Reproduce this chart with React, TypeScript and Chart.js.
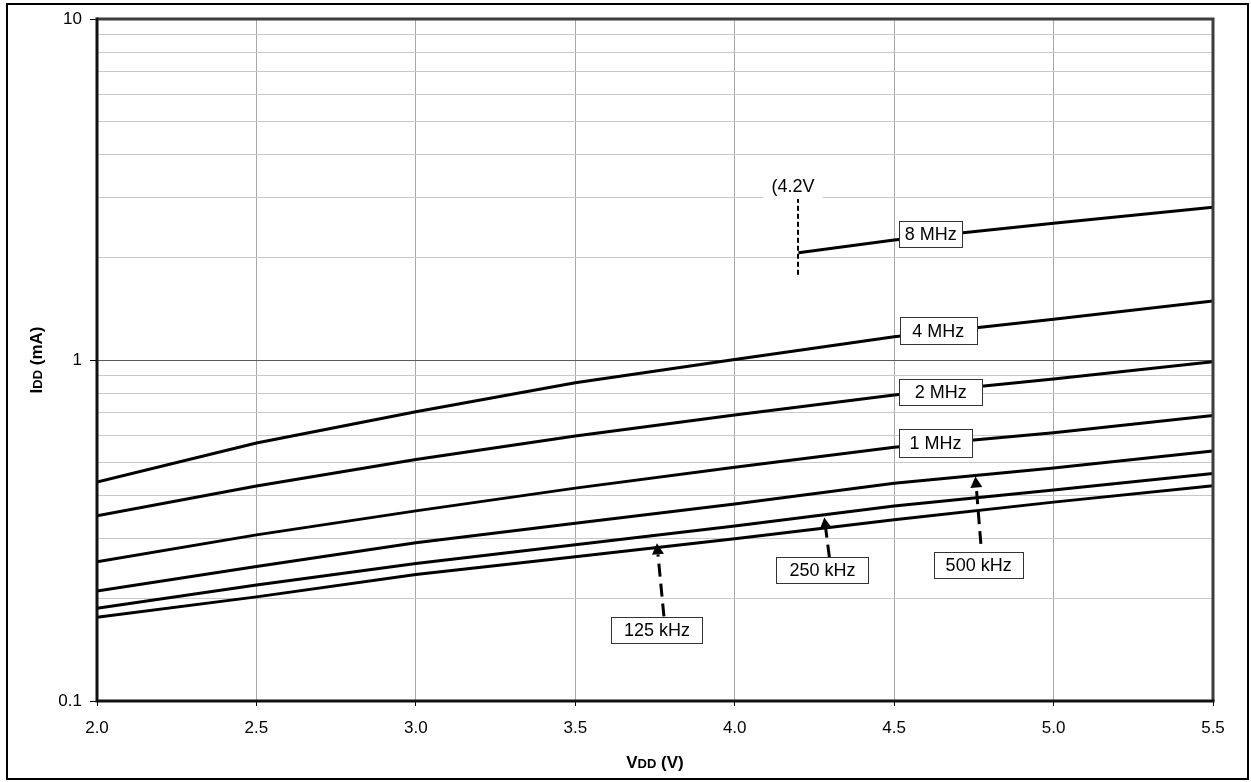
import React, { useEffect, useRef } from "react";
import { Chart, registerables } from "chart.js";

Chart.register(...registerables);

// ---------- data ----------
const VDD = [2.0, 2.5, 3.0, 3.5, 4.0, 4.5, 5.0, 5.5];
const IDD_4MHZ = [0.439, 0.571, 0.705, 0.858, 1.003, 1.17, 1.316, 1.489];
const IDD_2MHZ = [0.349, 0.427, 0.511, 0.599, 0.69, 0.79, 0.88, 0.989];
const IDD_1MHZ = [0.256, 0.307, 0.361, 0.421, 0.485, 0.555, 0.612, 0.687];
const IDD_500KHZ = [0.21, 0.248, 0.291, 0.332, 0.378, 0.435, 0.482, 0.541];
const IDD_250KHZ = [0.187, 0.219, 0.253, 0.287, 0.326, 0.373, 0.416, 0.465];
const IDD_125KHZ = [0.176, 0.202, 0.235, 0.265, 0.299, 0.34, 0.383, 0.428];
const VDD_8MHZ = [4.2, 4.5, 5.0, 5.5];
const IDD_8MHZ = [2.064, 2.248, 2.517, 2.804];

const X_TICKS = [2.0, 2.5, 3.0, 3.5, 4.0, 4.5, 5.0, 5.5];
const Y_GRID = [0.1, 0.2, 0.3, 0.4, 0.5, 0.6, 0.7, 0.8, 0.9, 1, 2, 3, 4, 5, 6, 7, 8, 9, 10];
const Y_LABELS = [0.1, 1, 10];

const X_TITLE = ["V", "DD", " (V)"];
const Y_TITLE = ["I", "DD", " (mA)"];

// label boxes (text + anchor in data units)
const BOX_TEXT = ["8 MHz", "4 MHz", "2 MHz", "1 MHz", "125 kHz", "250 kHz", "500 kHz"];
const BOX_V = [4.615, 4.638, 4.646, 4.63, 3.756, 4.275, 4.765];
const BOX_I = [2.346, 1.219, 0.804, 0.57, 0.1618, 0.2429, 0.25];

// arrows (tip / tail in data units)
const ARROW_TIP_V = [3.756, 4.281, 4.755];
const ARROW_TIP_I = [0.29, 0.345, 0.455];
const ARROW_TAIL_V = [3.778, 4.297, 4.772];
const ARROW_TAIL_I = [0.177, 0.2635, 0.2887];

// 4.2 V marker
const MARK_TEXT = "(4.2V";
const MARK_V = 4.2;
const MARK_I_TOP = 2.99;
const MARK_I_BOTTOM = 1.775;
const MARK_TEXT_V = 4.183;
const MARK_TEXT_I = 3.216;

// ---------- layout / style ----------
const W = 1251;
const H = 782;
const FONT = "Arial, 'Liberation Sans', Helvetica, sans-serif";
const BOX_W = [63, 77, 83, 73, 91, 92, 89];
const BOX_H = [26, 27, 26, 28, 26, 26, 26];

const toPoints = (xs: number[], ys: number[]) => xs.map((x, i) => ({ x, y: ys[i] }));

function drawMixed(ctx: CanvasRenderingContext2D, parts: string[], sizes: number[], cx: number, baseY: number) {
  let total = 0;
  const widths = parts.map((p, i) => {
    ctx.font = `bold ${sizes[i]}px ${FONT}`;
    const w = ctx.measureText(p).width;
    total += w;
    return w;
  });
  let x = cx - total / 2;
  ctx.textAlign = "left";
  ctx.textBaseline = "alphabetic";
  parts.forEach((p, i) => {
    ctx.font = `bold ${sizes[i]}px ${FONT}`;
    ctx.fillText(p, x, baseY);
    x += widths[i];
  });
}

const overlay = {
  id: "overlay",
  afterDatasetsDraw(chart: any) {
    const { ctx, chartArea: a, scales } = chart;
    const xs = scales.x;
    const ys = scales.y;
    ctx.save();

    // 4.2V dashed marker
    const mx = Math.round(xs.getPixelForValue(MARK_V));
    ctx.strokeStyle = "#000";
    ctx.lineWidth = 2;
    ctx.setLineDash([5, 3]);
    ctx.beginPath();
    ctx.moveTo(mx, ys.getPixelForValue(MARK_I_TOP));
    ctx.lineTo(mx, ys.getPixelForValue(MARK_I_BOTTOM));
    ctx.stroke();
    ctx.setLineDash([]);

    // marker text with white background
    ctx.font = `18px ${FONT}`;
    const tx = xs.getPixelForValue(MARK_TEXT_V);
    const ty = ys.getPixelForValue(MARK_TEXT_I);
    const tw = ctx.measureText(MARK_TEXT).width;
    ctx.fillStyle = "#fff";
    ctx.fillRect(tx - tw / 2 - 8, ty - 12, tw + 16, 24);
    ctx.fillStyle = "#000";
    ctx.textAlign = "center";
    ctx.textBaseline = "middle";
    ctx.fillText(MARK_TEXT, tx, ty);

    // arrows
    ARROW_TIP_V.forEach((_, i) => {
      const tipX = xs.getPixelForValue(ARROW_TIP_V[i]);
      const tipY = ys.getPixelForValue(ARROW_TIP_I[i]);
      const tailX = xs.getPixelForValue(ARROW_TAIL_V[i]);
      const tailY = ys.getPixelForValue(ARROW_TAIL_I[i]);
      const dx = tipX - tailX;
      const dy = tipY - tailY;
      const len = Math.hypot(dx, dy);
      const ux = dx / len;
      const uy = dy / len;
      const head = 11;
      const half = 6;
      const bx = tipX - ux * head;
      const by = tipY - uy * head;
      ctx.strokeStyle = "#000";
      ctx.lineWidth = 3;
      ctx.setLineDash([13, 7]);
      ctx.beginPath();
      ctx.moveTo(tailX, tailY);
      ctx.lineTo(bx, by);
      ctx.stroke();
      ctx.setLineDash([]);
      ctx.fillStyle = "#000";
      ctx.beginPath();
      ctx.moveTo(tipX, tipY);
      ctx.lineTo(bx - uy * half, by + ux * half);
      ctx.lineTo(bx + uy * half, by - ux * half);
      ctx.closePath();
      ctx.fill();
    });

    // label boxes
    BOX_TEXT.forEach((t, i) => {
      const cx = xs.getPixelForValue(BOX_V[i]);
      const cy = ys.getPixelForValue(BOX_I[i]);
      const w = BOX_W[i];
      const h = BOX_H[i];
      const x0 = Math.round(cx - w / 2) + 0.5;
      const y0 = Math.round(cy - h / 2) + 0.5;
      ctx.fillStyle = "#fff";
      ctx.fillRect(x0, y0, w, h);
      ctx.strokeStyle = "#333";
      ctx.lineWidth = 1;
      ctx.strokeRect(x0, y0, w, h);
      ctx.fillStyle = "#000";
      ctx.font = `18px ${FONT}`;
      ctx.textAlign = "center";
      ctx.textBaseline = "middle";
      ctx.fillText(t, cx, cy + 1);
    });

    // plot frame
    ctx.lineWidth = 3;
    ctx.strokeStyle = "#3c3c3c";
    ctx.beginPath();
    ctx.moveTo(a.left, a.top);
    ctx.lineTo(a.right, a.top);
    ctx.lineTo(a.right, a.bottom);
    ctx.stroke();
    ctx.strokeStyle = "#111";
    ctx.beginPath();
    ctx.moveTo(a.left, a.top - 1.5);
    ctx.lineTo(a.left, a.bottom);
    ctx.lineTo(a.right + 1.5, a.bottom);
    ctx.stroke();

    ctx.restore();
  },
  afterDraw(chart: any) {
    const { ctx, chartArea: a } = chart;
    ctx.save();
    ctx.fillStyle = "#000";
    // x title
    drawMixed(ctx, X_TITLE, [17, 13, 17], (a.left + a.right) / 2, 768);
    // y title
    ctx.translate(42, (a.top + a.bottom) / 2);
    ctx.rotate(-Math.PI / 2);
    drawMixed(ctx, Y_TITLE, [17, 13, 17], 0, 0);
    ctx.restore();
    // outer frame
    ctx.save();
    ctx.strokeStyle = "#000";
    ctx.lineWidth = 2;
    ctx.strokeRect(7, 4, 1241, 775);
    ctx.restore();
  },
};

export default function App() {
  const ref = useRef<HTMLCanvasElement | null>(null);

  useEffect(() => {
    document.body.style.margin = "0";
    const canvas = ref.current;
    if (!canvas) return;
    const line = (xs: number[], ys: number[], label: string) => ({
      label,
      data: toPoints(xs, ys),
      borderColor: "#000",
      backgroundColor: "#000",
      borderWidth: 3,
      pointRadius: 0,
      tension: 0,
      fill: false,
    });
    const chart = new Chart(canvas, {
      type: "line",
      data: {
        datasets: [
          line(VDD_8MHZ, IDD_8MHZ, "8 MHz"),
          line(VDD, IDD_4MHZ, "4 MHz"),
          line(VDD, IDD_2MHZ, "2 MHz"),
          line(VDD, IDD_1MHZ, "1 MHz"),
          line(VDD, IDD_500KHZ, "500 kHz"),
          line(VDD, IDD_250KHZ, "250 kHz"),
          line(VDD, IDD_125KHZ, "125 kHz"),
        ],
      },
      options: {
        responsive: false,
        animation: false,
        devicePixelRatio: 1,
        layout: { padding: { top: 19, right: 38, left: 0, bottom: 0 } },
        plugins: {
          legend: { display: false },
          title: { display: false },
          tooltip: { enabled: false },
        },
        scales: {
          x: {
            type: "linear",
            min: 2,
            max: 5.5,
            afterBuildTicks: (scale: any) => {
              scale.ticks = X_TICKS.map((v) => ({ value: v }));
            },
            afterFit: (scale: any) => {
              scale.height = 81;
            },
            ticks: {
              autoSkip: false,
              maxRotation: 0,
              padding: 12,
              color: "#000",
              font: { family: FONT, size: 17 },
              callback: (v: any) => Number(v).toFixed(1),
            },
            grid: {
              color: "#a8a8a8",
              lineWidth: 1,
              tickLength: 5,
              tickColor: "#000",
              tickWidth: 1,
            },
            border: { display: false },
          },
          y: {
            type: "logarithmic",
            min: 0.1,
            max: 10,
            afterBuildTicks: (scale: any) => {
              scale.ticks = Y_GRID.map((v) => ({ value: v, major: Y_LABELS.includes(v) }));
            },
            afterFit: (scale: any) => {
              scale.width = 97;
            },
            ticks: {
              autoSkip: false,
              padding: 8,
              color: "#000",
              font: { family: FONT, size: 17 },
              callback: (v: any) => (Y_LABELS.includes(Number(v)) ? String(v) : ""),
            },
            grid: {
              color: (c: any) => (c.tick && c.tick.value === 1 ? "#5a5a5a" : "#c8c8c8"),
              lineWidth: 1,
              tickLength: 7,
              tickColor: (c: any) =>
                c.tick && Y_LABELS.includes(c.tick.value) ? "#000" : "rgba(0,0,0,0)",
              tickWidth: 1,
            },
            border: { display: false },
          },
        },
      },
      plugins: [overlay],
    } as any);
    return () => chart.destroy();
  }, []);

  return (
    <canvas
      ref={ref}
      width={W}
      height={H}
      style={{ display: "block", width: W, height: H, background: "#fff" }}
    />
  );
}
